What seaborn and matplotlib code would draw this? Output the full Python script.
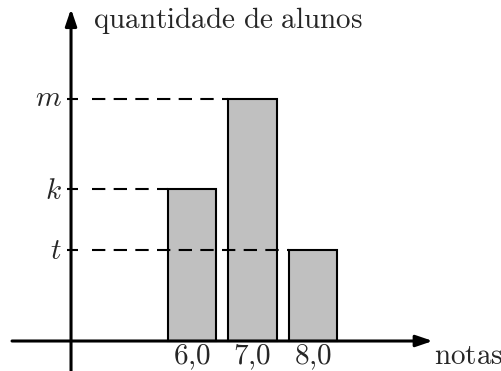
import matplotlib
matplotlib.use("Agg")
import matplotlib.pyplot as plt
import seaborn as sns
import numpy as np

notas = [6, 7, 8]
nota_labels = ["6,0", "7,0", "8,0"]
alunos = [5, 8, 3]
nivel_labels = ["k", "m", "t"]

sns.set_style("white")
plt.rcParams["mathtext.fontset"] = "cm"

fig = plt.figure(figsize=(5.02, 3.71), dpi=100)
ax = fig.add_axes([0, 0, 1, 1])

sns.barplot(x=notas, y=alunos, native_scale=True, width=0.8, color="#c0c0c0",
            saturation=1, edgecolor="black", linewidth=1.5, ax=ax, zorder=2)

ax.set_xlim(2.826, 11.124)
ax.set_ylim(-0.99, 11.254)
ax.axis("off")

bw = 0.8
# dashed guide lines from y axis to the bar that is at that level
for x, v in zip(notas, alunos):
    ax.plot([4.342, x - bw / 2], [v, v], color="black", lw=1.5,
            linestyle=(0, (6.4, 4.0)), zorder=3, solid_capstyle="butt")
    ax.plot([3.93, 4.116], [v, v], color="black", lw=1.5, zorder=4,
            solid_capstyle="butt")

# axes with arrows
arrow = dict(arrowstyle="-|>,head_length=0.5,head_width=0.17", lw=2.2,
             color="black", shrinkA=0, shrinkB=0, mutation_scale=20)
ax.annotate("", xy=(9.98, 0), xytext=(3.025, 0), arrowprops=arrow, zorder=5)
ax.annotate("", xy=(4, 10.96), xytext=(4, -1.2), arrowprops=arrow, zorder=5)

fs = 21
ax.text(4.364, 10.33, r"$\mathrm{quantidade\ de\ alunos}$", fontsize=fs,
        ha="left", va="baseline")
ax.text(10.0, -0.76, r"$\mathrm{notas}$", fontsize=fs, ha="left", va="baseline")
for x, lab in zip(notas, nota_labels):
    ax.text(x, -0.76, r"$\mathrm{" + lab.replace(",", "{,}") + "}$", fontsize=fs,
            ha="center", va="baseline")

offs = {"m": 7, "k": 10, "t": 9}
for v, lab in zip(alunos, nivel_labels):
    ax.annotate(r"$" + lab + "$", xy=(4, v), xytext=(-9, -offs[lab]),
                textcoords="offset pixels", ha="right", va="baseline", fontsize=fs)

fig.savefig("out.png", dpi=100)
